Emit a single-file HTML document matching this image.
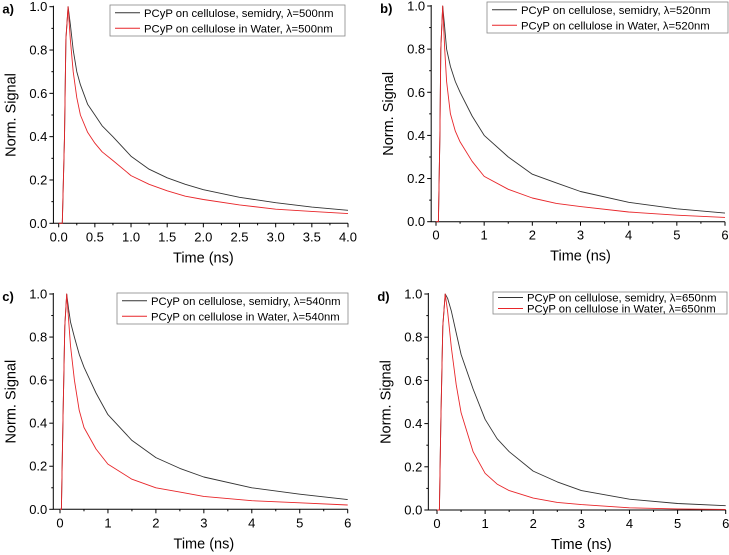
<!DOCTYPE html>
<html><head><meta charset="utf-8"><style>
body{margin:0;background:#fff}
svg{display:block;font-family:"Liberation Sans",sans-serif}
</style></head><body>
<svg id="fig" width="729" height="555" viewBox="0 0 729 555"></svg>
<script>
const aTimes=[0,0.05,0.08,0.1,0.13,0.16,0.2,0.25,0.3,0.4,0.5,0.6,0.75,1,1.25,1.5,1.75,2,2.5,3,3.5,4];
const aSemi=[0,0,0.4,0.85,1.0,0.92,0.8,0.7,0.64,0.55,0.5,0.45,0.4,0.31,0.25,0.21,0.18,0.155,0.12,0.095,0.075,0.06];
const aWater=[0,0,0.4,0.85,1.0,0.85,0.7,0.58,0.5,0.42,0.37,0.33,0.29,0.22,0.18,0.15,0.125,0.11,0.085,0.065,0.055,0.045];
const bTimes=[0,0.05,0.08,0.1,0.14,0.18,0.22,0.3,0.4,0.5,0.75,1,1.5,2,2.5,3,4,5,6];
const bSemi=[0,0,0.4,0.8,1.0,0.9,0.8,0.72,0.65,0.6,0.49,0.4,0.3,0.22,0.18,0.14,0.09,0.06,0.04];
const bWater=[0,0,0.4,0.8,1.0,0.8,0.65,0.5,0.42,0.37,0.28,0.21,0.15,0.11,0.085,0.07,0.045,0.03,0.02];
const cTimes=[0,0.03,0.06,0.1,0.14,0.18,0.22,0.3,0.4,0.5,0.75,1,1.5,2,2.5,3,4,5,6];
const cSemi=[0,0,0.4,0.85,1.0,0.93,0.87,0.8,0.72,0.66,0.54,0.44,0.32,0.24,0.19,0.15,0.1,0.07,0.045];
const cWater=[0,0,0.4,0.85,1.0,0.88,0.76,0.6,0.46,0.38,0.28,0.21,0.14,0.1,0.08,0.06,0.04,0.03,0.02];
const dTimes=[0,0.05,0.08,0.12,0.17,0.22,0.3,0.4,0.5,0.75,1,1.25,1.5,2,2.5,3,4,5,6];
const dSemi=[0,0,0.4,0.85,1.0,0.98,0.92,0.82,0.72,0.56,0.42,0.33,0.27,0.18,0.13,0.09,0.05,0.03,0.02];
const dWater=[0,0,0.4,0.85,1.0,0.92,0.75,0.58,0.45,0.27,0.17,0.12,0.09,0.055,0.035,0.025,0.01,0.005,0.003];
const xTicksA=["0.0","0.5","1.0","1.5","2.0","2.5","3.0","3.5","4.0"];
const xTicks6=["0","1","2","3","4","5","6"];
const yTicks=["0.0","0.2","0.4","0.6","0.8","1.0"];
const NS="http://www.w3.org/2000/svg";
const svg=document.getElementById('fig');
function mk(tag,attrs,parent){const e=document.createElementNS(NS,tag);for(const k in attrs)e.setAttribute(k,attrs[k]);(parent||svg).appendChild(e);return e;}
const panels=[
 {id:'a',t:aTimes,s:aSemi,w:aWater,xt:xTicksA,xmin:-0.073,x0:58.7,x1:348,y0:223.3,y1:6.7,lam:'500',lg:[110,5,345,36]},
 {id:'b',t:bTimes,s:bSemi,w:bWater,xt:xTicks6,xmin:-0.1,x0:436,x1:725,y0:221.7,y1:6,lam:'520',lg:[487,2,728,33]},
 {id:'c',t:cTimes,s:cSemi,w:cWater,xt:xTicks6,xmin:-0.14,x0:60,x1:347.7,y0:509.3,y1:294,lam:'540',lg:[117,293,348,324]},
 {id:'d',t:dTimes,s:dSemi,w:dWater,xt:xTicks6,xmin:-0.18,x0:437,x1:725.7,y0:510,y1:294,lam:'650',lg:[493,292,727,314]}
];
panels.forEach(p=>{
 const g=mk('g',{});
 
 
 const xmaxV=parseFloat(p.xt[p.xt.length-1]);
 const sx=v=>p.x0+v*(p.x1-p.x0)/xmaxV;
 const sy=v=>p.y0+(p.y1-p.y0)*v;
 const left=sx(p.xmin), right=p.x1;
 const ax=mk('path',{d:`M${left},${p.y1-1}V${p.y0}H${right}`,stroke:'#000','stroke-width':1,fill:'none'},g);
 
 
 yTicks.forEach((lab,i)=>{
  const v=parseFloat(lab),y=sy(v);
  mk('line',{x1:left-4,x2:left,y1:y,y2:y,stroke:'#000'},g);
  if(i<yTicks.length-1)mk('line',{x1:left-2,x2:left,y1:sy(v+0.1),y2:sy(v+0.1),stroke:'#000'},g);
  const t=mk('text',{x:left-6,y:y+4.5,'text-anchor':'end','font-size':13},g);t.textContent=lab;
  
  
 });
 const step=parseFloat(p.xt[1])-parseFloat(p.xt[0]);
 p.xt.forEach((lab,i)=>{
  const v=parseFloat(lab),x=sx(v);
  mk('line',{x1:x,x2:x,y1:p.y0,y2:p.y0+4,stroke:'#000'},g);
  if(i<p.xt.length-1)mk('line',{x1:sx(v+step/2),x2:sx(v+step/2),y1:p.y0,y2:p.y0+2,stroke:'#000'},g);
  const t=mk('text',{x:x,y:p.y0+18,'text-anchor':'middle','font-size':13},g);t.textContent=lab;
  
  
 });
 const xt=mk('text',{x:(p.x0+p.x1)/2,y:p.y0+39,'text-anchor':'middle','font-size':14.5},g);xt.textContent='Time (ns)';
 
 
 const ymid=(p.y0+p.y1)/2, yx=left-38;
 const yt=mk('text',{x:yx,y:ymid,'text-anchor':'middle','font-size':14.5,transform:`rotate(-90 ${yx} ${ymid})`},g);yt.textContent='Norm. Signal';
 
 
 const pl=mk('text',{x:left-51,y:p.y1+7,'font-size':13,'font-weight':'bold'},g);pl.textContent=p.id+')';
 
 
 [[p.s,'#333','semidry'],[p.w,'#e8262a','water']].forEach(([vals,col,nm])=>{
  const pts=p.t.map((t,i)=>sx(t).toFixed(1)+','+sy(vals[i]).toFixed(1)).join(' ');
  const l=mk('polyline',{points:pts,fill:'none',stroke:col,'stroke-width':0.9,'stroke-linejoin':'round'},g);
  
  
 });
 const [lx0,ly0,lx1,ly1]=p.lg;
 const lg=mk('g',{},g);
 
 
 mk('rect',{x:lx0,y:ly0,width:lx1-lx0,height:ly1-ly0,fill:'#fff',stroke:'#888','stroke-width':0.8},lg);
 const rows=[['#333','PCyP on cellulose, semidry, λ='+p.lam+'nm'],['#e8262a','PCyP on cellulose in Water, λ='+p.lam+'nm']];
 const rh=(ly1-ly0)/2;
 rows.forEach((r,i)=>{
  const cy=ly0+rh*(i+0.5);
  mk('line',{x1:lx0+5,x2:lx0+30,y1:cy,y2:cy,stroke:r[0],'stroke-width':1},lg);
  const t=mk('text',{x:lx0+34,y:cy+4,'font-size':11.3},lg);t.textContent=r[1];
  
  
 });
});
</script>
</body></html>
